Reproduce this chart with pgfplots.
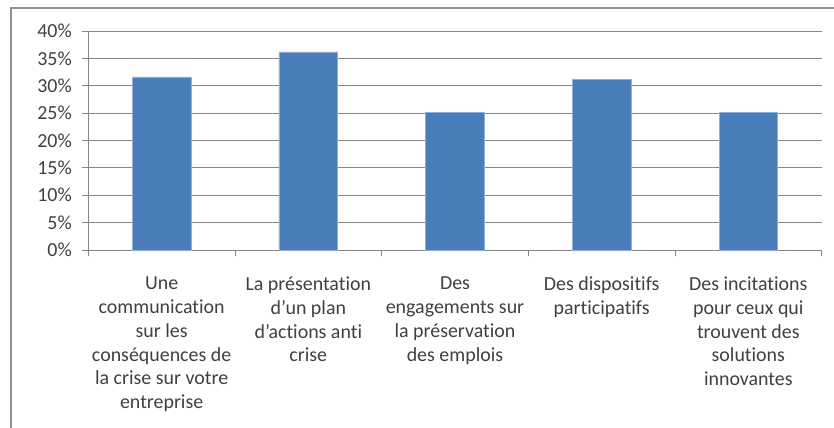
\documentclass[border=0pt]{standalone}
\usepackage{fontspec}
\setmainfont[Ligatures=NoCommon]{Carlito}
\usepackage{pgfplots}
\pgfplotsset{compat=1.18}
\definecolor{barblue}{RGB}{74,126,187}
\definecolor{baredge}{RGB}{140,175,215}
\definecolor{gridgray}{RGB}{134,134,134}
\definecolor{txt}{RGB}{64,64,64}
\begin{document}
\begin{tikzpicture}
\begin{axis}[
  at={(0,0)}, anchor=south west,
  scale only axis,
  width=733.4bp, height=219bp,
  xmin=-0.5, xmax=4.5,
  ymin=0, ymax=40,
  axis x line*=bottom, axis y line*=left,
  axis line style={gridgray, line width=0.8bp, -},
  xtick={-0.5,0.5,1.5,2.5,3.5,4.5},
  x tick label as interval,
  xticklabels={{Une\\communication\\sur les\\conséquences de\\la crise sur votre\\entreprise},
    {La présentation\\d’un plan\\d’actions anti\\crise},
    {Des\\engagements sur\\la préservation\\des emplois},
    {Des dispositifs\\participatifs},
    {Des incitations\\pour ceux qui\\trouvent des\\solutions\\innovantes}},
  ytick={0,5,...,40},
  yticklabels={0\%,5\%,10\%,15\%,20\%,25\%,30\%,35\%,40\%},
  tick align=outside,
  major tick length=6bp,
  tick style={gridgray, line width=0.8bp},
  ymajorgrids,
  grid style={gridgray, line width=0.8bp},
  x tick label style={align=center, font=\fontsize{20}{24}\selectfont, text=txt, anchor=north, yshift=-17bp},
  y tick label style={font=\fontsize{20}{24}\selectfont, text=txt, xshift=-7bp},
  ybar, bar width=58.7bp,
]
\addplot[fill=barblue, draw=baredge, line width=0.6bp] coordinates {(0,31.6) (1,36.2) (2,25.2) (3,31.1) (4,25.2)};
\end{axis}
\draw[line width=1.5bp, color=gridgray!90] (-77.3bp,-200bp) -- (-77.3bp,242bp) -- (800bp,242bp);
\pgfresetboundingbox
\useasboundingbox (-88.3bp,-178bp) rectangle (745.7bp,250bp);
\end{tikzpicture}
\end{document}
